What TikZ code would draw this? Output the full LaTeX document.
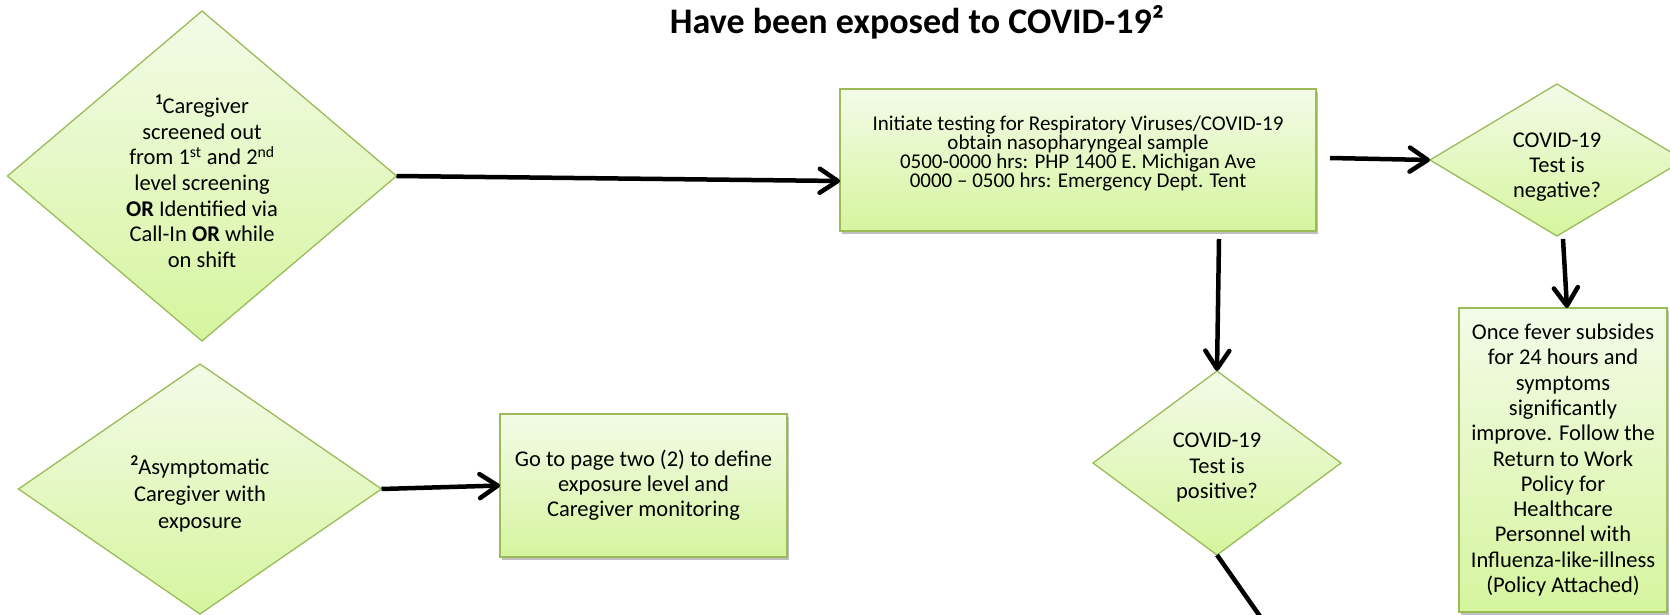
\documentclass[tikz,border=0pt]{standalone}
\usepackage{fontspec}
\setmainfont{Carlito}
\usetikzlibrary{shapes.geometric,arrows.meta,shadows}
\definecolor{gtop}{RGB}{243,251,232}
\definecolor{gbot}{RGB}{213,245,158}
\definecolor{gborder}{RGB}{155,187,89}
\newcommand{\refmark}[1]{\raisebox{0.42em}{\fontsize{15}{15}\selectfont\bfseries #1}}
\begin{document}
\begin{tikzpicture}[x=1pt,y=-1pt,
  every node/.style={inner sep=0pt,outer sep=0pt},
  txt/.style={font=\fontsize{22.5}{#1}\selectfont,align=center},
  flowbox/.style={shape=rectangle,draw=gborder,line width=1.3pt,top color=gtop,bottom color=gbot,
    drop shadow={shadow xshift=2pt,shadow yshift=-3pt,opacity=0.25,fill=black}},
  flowdia/.style={shape=diamond,draw=gborder,line width=1.3pt,top color=gtop,bottom color=gbot},
  conn/.style={line width=4.5pt,-{Straight Barb[length=18pt,width=24pt,round]}},
  plain/.style={line width=4.5pt},
]
\useasboundingbox (0,0) rectangle (1670,615);
\clip (0,0) rectangle (1670,615);

\node[font=\fontsize{36}{40}\selectfont\bfseries] (title) at (917,22) {Have been exposed to COVID-19²};

% diamonds
\node[flowdia,minimum width=389pt,minimum height=330pt,aspect=1.18] (d1) at (202,176) {};
\node[txt=25.6] (d1t) at ([yshift=-5pt]d1.center)
 {\refmark{1}Caregiver\\screened out\\from 1\textsuperscript{st} and 2\textsuperscript{nd}\\level screening\\\textbf{OR} Identified via\\Call-In \textbf{OR} while\\on shift};

\node[flowdia,minimum width=363pt,minimum height=250pt,aspect=1.45] (d2) at (200,489) {};
\node[txt=27] (d2t) at ([yshift=-5pt]d2.center)
 {\refmark{2}Asymptomatic\\Caregiver with\\exposure};

\node[flowdia,minimum width=254pt,minimum height=152pt,aspect=1.67] (dneg) at (1557,160) {};
\node[txt=25] (dnegt) at ([yshift=-7pt]dneg.center) {COVID-19\\Test is\\negative?};

\node[flowdia,minimum width=248pt,minimum height=184pt,aspect=1.35] (dpos) at (1217,463) {};
\node[txt=25.5] (dpost) at ([yshift=-5pt]dpos.center) {COVID-19\\Test is\\positive?};

% boxes
\node[flowbox,txt=25,minimum width=287pt,minimum height=143pt] (box2) at (643.5,485.5)
 {Go to page two (2) to define\\exposure level and\\Caregiver monitoring};

\node[flowbox,minimum width=476pt,minimum height=142pt] (box1) at (1078,160) {};
\node[align=center,font=\fontsize{21}{19}\selectfont] (box1t) at ([yshift=6pt]box1.center)
 {Initiate testing for Respiratory Viruses/COVID-19\\obtain nasopharyngeal sample\\0500-0000 hrs: PHP 1400 E. Michigan Ave\\0000 -- 0500 hrs: Emergency Dept. Tent};

\node[flowbox,txt=25.3,minimum width=208pt,minimum height=304pt] (rbox) at (1563,460)
 {Once fever subsides\\for 24 hours and\\symptoms\\significantly\\improve. Follow the\\Return to Work\\Policy for\\Healthcare\\Personnel with\\Influenza-like-illness\\(Policy Attached)};

\coordinate (offpage) at (1264,622);

\draw[conn] (d1.east) -- ([yshift=-21pt]box1.west);
\draw[conn] ([xshift=14pt,yshift=2pt]box1.east) -- (dneg.west);
\draw[conn] ([xshift=141pt,yshift=-8pt]box1.south) -- (dpos.north);
\draw[conn] ([xshift=6pt,yshift=-3pt]dneg.south) -- ([xshift=4pt]rbox.north);
\draw[conn] (d2.east) -- (box2.west);
\draw[plain] (dpos.south) -- (offpage);
\end{tikzpicture}
\end{document}
